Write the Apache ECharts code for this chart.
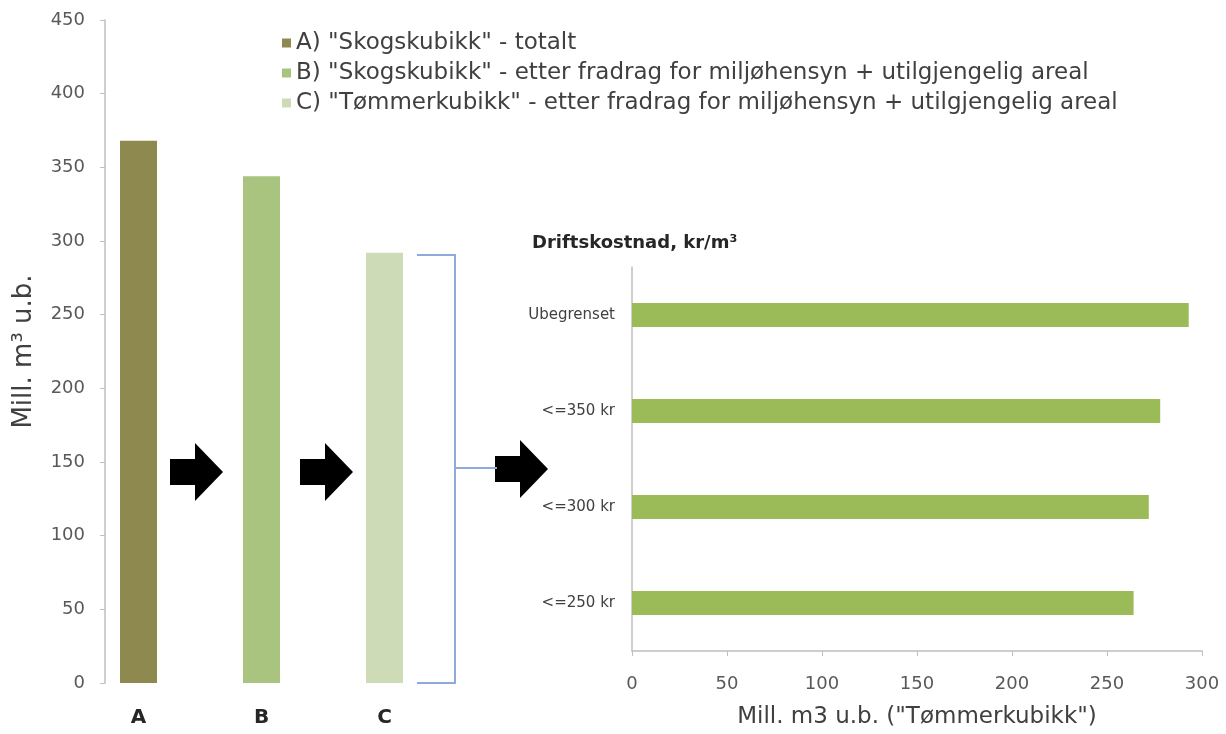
<!DOCTYPE html>
<html>
<head>
<meta charset="utf-8">
<script src="https://cdn.jsdelivr.net/npm/echarts@6/dist/echarts.min.js"></script>
<style>html,body{margin:0;padding:0;background:#fff}#c{width:1226px;height:734px}</style>
</head>
<body>
<div id="c"></div>
<script>
// ---- data ----
const leftCategories = ['A', 'B', 'C'];
const leftSeriesNames = [
  'A) "Skogskubikk" - totalt',
  'B) "Skogskubikk" - etter fradrag for miljøhensyn + utilgjengelig areal',
  'C) "Tømmerkubikk" - etter fradrag for miljøhensyn + utilgjengelig areal'
];
const leftValues = [368, 344, 292];
const leftColors = ['#8e894e', '#a8c47e', '#cddcb6'];
const leftTicks = [0, 450, 50]; // min, max, interval

const rightCategories = ['Ubegrenset', '<=350 kr', '<=300 kr', '<=250 kr'];
const rightValues = [293, 278, 272, 264];
const rightTicks = [0, 300, 50];

const FONT = 'DejaVu Sans';
const chart = echarts.init(document.getElementById('c'), null, {renderer: 'canvas'});

const leftSeries = leftSeriesNames.map((name, i) => ({
  name: name,
  type: 'bar',
  xAxisIndex: 0, yAxisIndex: 0,
  stack: 'left',
  barWidth: 37,
  itemStyle: {color: leftColors[i]},
  data: leftValues.map((v, j) => (j === i ? v : '-'))
}));

function arrow(x0, yc) {
  return [[x0, yc - 13], [x0 + 25, yc - 13], [x0 + 25, yc - 29], [x0 + 53, yc], [x0 + 25, yc + 29], [x0 + 25, yc + 13], [x0, yc + 13]];
}

const option = {
  animation: false,
  backgroundColor: '#fff',
  textStyle: {fontFamily: FONT},
  title: {
    text: 'Driftskostnad, kr/m³',
    left: 527, top: 229,
    textStyle: {fontFamily: FONT, fontSize: 18, fontWeight: 'bold', color: '#262626'}
  },
  legend: {
    orient: 'vertical',
    left: 277, top: 23,
    itemWidth: 9, itemHeight: 9, itemGap: 0,
    icon: 'rect',
    data: leftSeriesNames,
    textStyle: {fontFamily: FONT, fontSize: 23, color: '#404040', lineHeight: 30}
  },
  grid: [
    {left: 77, width: 369, top: 20, bottom: 51},
    {left: 632, right: 24, top: 267, bottom: 81}
  ],
  xAxis: [
    {
      type: 'category', gridIndex: 0, data: leftCategories,
      axisLine: {show: false}, axisTick: {show: false},
      axisLabel: {fontFamily: FONT, fontSize: 20, fontWeight: 'bold', color: '#262626', margin: 25}
    },
    {
      type: 'value', gridIndex: 1, min: rightTicks[0], max: rightTicks[1], interval: rightTicks[2],
      splitLine: {show: false},
      axisLine: {show: true, lineStyle: {color: '#bfbfbf', width: 1.5}},
      axisTick: {show: true, length: 5, lineStyle: {color: '#bfbfbf'}},
      axisLabel: {fontFamily: FONT, fontSize: 18, color: '#595959', margin: 24},
      name: 'Mill. m3 u.b. ("Tømmerkubikk")',
      nameLocation: 'middle', nameGap: 55,
      nameTextStyle: {fontFamily: FONT, fontSize: 23, color: '#404040'}
    }
  ],
  yAxis: [
    {
      type: 'value', gridIndex: 0, min: leftTicks[0], max: leftTicks[1], interval: leftTicks[2],
      offset: -28,
      splitLine: {show: false},
      axisLine: {show: true, lineStyle: {color: '#bfbfbf', width: 1.5}},
      axisTick: {show: true, length: 5, lineStyle: {color: '#bfbfbf'}},
      axisLabel: {fontFamily: FONT, fontSize: 18, color: '#595959', margin: 20},
      name: 'Mill. m³ u.b.',
      nameLocation: 'middle', nameGap: 68,
      nameTextStyle: {fontFamily: FONT, fontSize: 26, color: '#404040'}
    },
    {
      type: 'category', gridIndex: 1, data: rightCategories, inverse: true,
      axisLine: {show: true, lineStyle: {color: '#bfbfbf', width: 1.5}},
      axisTick: {show: false},
      axisLabel: {fontFamily: FONT, fontSize: 15, color: '#404040', margin: 17}
    }
  ],
  series: leftSeries.concat([{
    name: 'Tømmerkubikk',
    type: 'bar',
    xAxisIndex: 1, yAxisIndex: 1,
    barWidth: 24,
    itemStyle: {color: '#9bbb59'},
    data: rightValues
  }]),
  graphic: [
    {type: 'polygon', shape: {points: arrow(170, 472)}, style: {fill: '#000'}},
    {type: 'polygon', shape: {points: arrow(300, 472)}, style: {fill: '#000'}},
    {type: 'polygon', shape: {points: arrow(495, 469)}, style: {fill: '#000'}},
    {type: 'polyline', shape: {points: [[417, 255], [455, 255], [455, 683], [417, 683]]}, style: {stroke: '#8eaadb', lineWidth: 2, fill: null}},
    {type: 'line', shape: {x1: 455, y1: 468, x2: 497, y2: 468}, style: {stroke: '#8eaadb', lineWidth: 2}}
  ]
};
chart.setOption(option);
</script>
</body>
</html>
